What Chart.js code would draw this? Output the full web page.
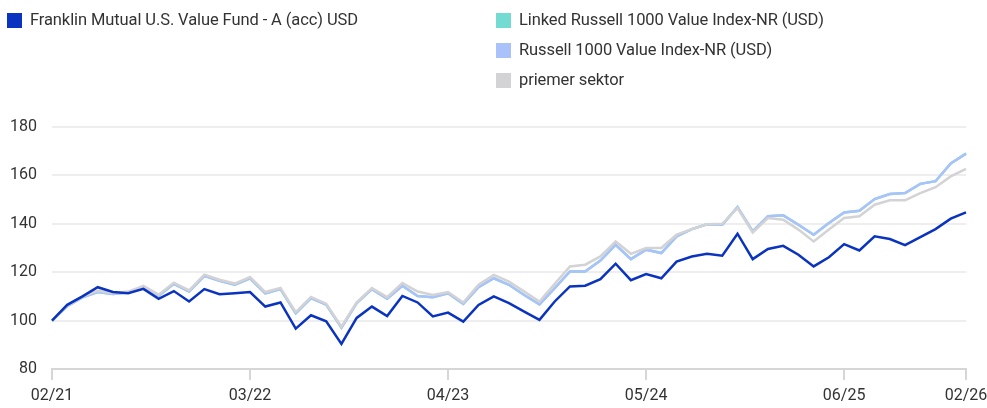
<!DOCTYPE html>
<html>
<head>
<meta charset="utf-8">
<script src="https://cdn.jsdelivr.net/npm/chart.js@4"></script>
<style>
  html, body { margin: 0; padding: 0; background: #fff; }
  #wrap { position: relative; width: 987px; height: 408px; }
  #chart { position: absolute; left: 0; top: 0; }
  .lg { position: absolute; font-family: Roboto, sans-serif; font-size: 16.5px; letter-spacing: -0.1px; color: #333; white-space: nowrap; line-height: 20px; }
  .lg span.box { position: absolute; left: 0; top: 3px; width: 15px; height: 15px; }
  .lg span.txt { position: absolute; left: 23px; top: 0; }
</style>
</head>
<body>
<div id="wrap">
  <canvas id="chart" width="987" height="408"></canvas>
  <div id="legend"></div>
</div>
<script>
// month categories 02/21 .. 02/26
var months = [
  "02/21","03/21","04/21","05/21","06/21","07/21","08/21","09/21","10/21","11/21","12/21",
  "01/22","02/22","03/22","04/22","05/22","06/22","07/22","08/22","09/22","10/22","11/22","12/22",
  "01/23","02/23","03/23","04/23","05/23","06/23","07/23","08/23","09/23","10/23","11/23","12/23",
  "01/24","02/24","03/24","04/24","05/24","06/24","07/24","08/24","09/24","10/24","11/24","12/24",
  "01/25","02/25","03/25","04/25","05/25","06/25","07/25","08/25","09/25","10/25","11/25","12/25",
  "01/26","02/26"
];
var shownTicks = ["02/21", "03/22", "04/23", "05/24", "06/25", "02/26"];

var fund = [100, 106.5, 110.0, 113.8, 111.8, 111.3, 113.1, 109.0, 112.2, 107.9, 113.0,
  110.9, 111.3, 111.8, 105.8, 107.5, 96.7, 102.2, 99.7, 90.4, 101.1, 105.8,
  101.9, 110.2, 107.5, 101.7, 103.3, 99.6, 106.5, 110.0, 107.2, 103.7, 100.3,
  107.9, 114.1, 114.4, 117.1, 123.5, 116.7, 119.2, 117.5, 124.4, 126.5, 127.6,
  126.8, 135.9, 125.4, 129.6, 130.9, 127.2, 122.4, 126.2, 131.6, 129.0, 134.8,
  133.7, 131.2, 134.5, 137.8, 142.1, 144.7];

var russell = [100, 106.0, 109.6, 111.8, 111.0, 111.6, 113.8, 110.3, 115.2, 112.0, 118.5,
  116.4, 114.8, 117.5, 111.3, 113.0, 103.0, 109.3, 106.6, 97.1, 107.2, 113.0,
  109.0, 114.4, 110.2, 109.7, 111.3, 106.9, 113.8, 117.5, 114.8, 110.6, 106.7,
  113.4, 120.3, 120.3, 124.8, 131.3, 125.4, 129.3, 127.9, 134.8, 137.8, 139.8,
  139.6, 146.9, 136.9, 143.1, 143.5, 139.6, 135.5, 140.3, 144.7, 145.4, 150.2,
  152.3, 152.7, 156.5, 157.6, 164.9, 169.0];

// linked index runs under the russell line
var linked = russell.slice();

var sector = [100, 106.2, 110.0, 112.3, 111.3, 112.0, 114.3, 110.7, 115.7, 112.5, 119.0,
  116.9, 115.3, 118.0, 111.8, 113.5, 103.5, 109.8, 107.0, 97.5, 107.6, 113.4,
  109.7, 115.5, 112.0, 110.6, 111.8, 107.5, 114.8, 118.9, 116.1, 112.0, 107.9,
  115.2, 122.4, 123.1, 126.5, 132.7, 127.6, 130.0, 130.0, 135.5, 137.8, 139.8,
  140.0, 146.5, 136.4, 142.4, 141.7, 137.6, 132.7, 137.6, 142.4, 143.1, 147.9,
  149.7, 149.7, 152.7, 155.1, 159.6, 162.7];

var names = [
  "Franklin Mutual U.S. Value Fund - A (acc) USD",
  "Linked Russell 1000 Value Index-NR (USD)",
  "Russell 1000 Value Index-NR (USD)",
  "priemer sektor"
];
var colors = ["#0a34c0", "#74dbd2", "#aac2fa", "#d3d3d5"];

<!-- legend (html, two columns) -->
var legendPos = [[7, 10], [496, 10], [496, 40], [496, 70]];
var legendHtml = "";
for (var i = 0; i < names.length; i++) {
  legendHtml += '<div class="lg" style="left:' + legendPos[i][0] + 'px;top:' + legendPos[i][1] + 'px">' +
    '<span class="box" style="background:' + colors[i] + '"></span>' +
    '<span class="txt">' + names[i] + '</span></div>';
}
document.getElementById("legend").innerHTML = legendHtml;

var font = { family: "Roboto, sans-serif", size: 16 };

function ds(label, data, color, order) {
  return {
    label: label, data: data, borderColor: color, backgroundColor: color,
    borderWidth: 2.5, pointRadius: 0, tension: 0, fill: false, order: order
  };
}

new Chart(document.getElementById("chart"), {
  type: "line",
  data: {
    labels: months,
    datasets: [
      ds(names[0], fund, colors[0], 0),
      ds(names[1], linked, colors[1], 3),
      ds(names[2], russell, colors[2], 2),
      ds(names[3], sector, colors[3], 1)
    ]
  },
  options: {
    responsive: false,
    animation: false,
    layout: { padding: { top: 127, right: 21, left: 0, bottom: 0 } },
    plugins: { legend: { display: false }, tooltip: { enabled: false } },
    scales: {
      x: {
        offset: false,
        afterFit: function (s) { s.height = 39; s.paddingLeft = 0; s.paddingRight = 0; },
        border: { display: true, color: "#d6d6d6", width: 2 },
        grid: { drawOnChartArea: false, drawTicks: true, tickLength: 11, color: "#d6d6d6", lineWidth: 2 },
        ticks: {
          autoSkip: false, maxRotation: 0, padding: 6, color: "#333", font: font,
          callback: function (v, idx) {
            var l = months[idx];
            return shownTicks.indexOf(l) >= 0 ? l : null;
          }
        }
      },
      y: {
        min: 80, max: 180,
        afterFit: function (s) { s.width = 52; },
        border: { display: false },
        grid: { drawTicks: false, color: "#eeeeee", lineWidth: 2 },
        ticks: { stepSize: 20, padding: 15, color: "#333", font: font }
      }
    }
  }
});
</script>
</body>
</html>
